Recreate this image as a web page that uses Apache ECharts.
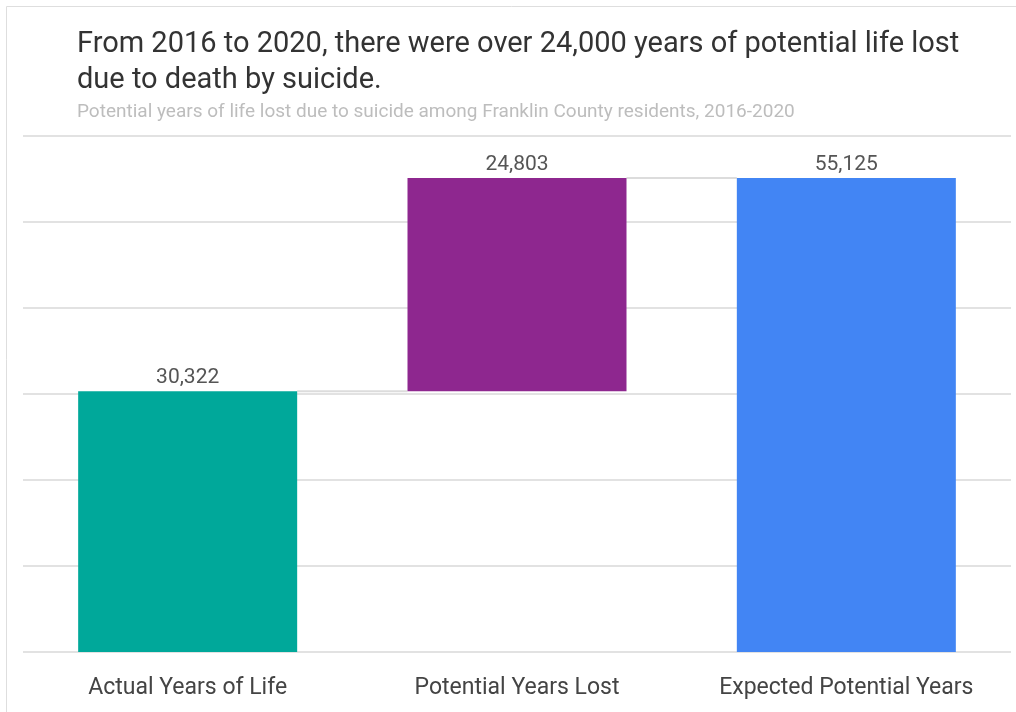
<!DOCTYPE html>
<html>
<head>
<meta charset="utf-8">
<script src="https://cdn.jsdelivr.net/npm/echarts@6/dist/echarts.min.js"></script>
<style>
  html, body { margin: 0; padding: 0; background: #ffffff; }
  #chart { width: 1016px; height: 712px; }
</style>
</head>
<body>
<div id="chart"></div>
<script>
// Waterfall: actual years + years lost = expected potential years
const categories = ['Actual Years of Life', 'Potential Years Lost', 'Expected Potential Years'];
const values = [30322, 24803, 55125];
const barColors = ['#00A89A', '#8E278F', '#4285F4'];
const yTicks = [0, 10000, 20000, 30000, 40000, 50000, 60000];

// invisible base under each bar (the lost years float on top of the actual years)
const bases = [0, values[0], 0];
// level each connector sits at: top of the bar it leaves
const connectorLevels = [values[0], values[0] + values[1]];

const chart = echarts.init(document.getElementById('chart'));
const BAR_FRAC = 0.665;

chart.setOption({
  animation: false,
  textStyle: { fontFamily: 'Roboto, "Liberation Sans", sans-serif' },
  graphic: [{
    type: 'rect',
    shape: { x: 6.5, y: 6.5, width: 1040, height: 760 },
    style: { fill: 'none', stroke: '#dedede', lineWidth: 1 },
    silent: true
  }],
  title: {
    text: 'From 2016 to 2020, there were over 24,000 years of potential life lost\ndue to death by suicide.',
    subtext: 'Potential years of life lost due to suicide among Franklin County residents, 2016-2020',
    left: 72,
    top: 22,
    itemGap: 4,
    textStyle: { fontSize: 29, fontWeight: 'normal', color: '#333333', lineHeight: 36, fontFamily: 'Roboto, sans-serif' },
    subtextStyle: { fontSize: 19, color: '#bdbdbd', fontFamily: 'Roboto, sans-serif' }
  },
  grid: { left: 23, right: 5, top: 136, bottom: 60, containLabel: false },
  xAxis: {
    type: 'category',
    data: categories,
    axisLine: { show: false },
    axisTick: { show: false },
    axisLabel: { interval: 0, hideOverlap: false, color: '#444444', fontSize: 23, margin: 25, fontFamily: 'Roboto, sans-serif' }
  },
  yAxis: {
    type: 'value',
    min: yTicks[0],
    max: yTicks[yTicks.length - 1],
    interval: yTicks[1] - yTicks[0],
    axisLabel: { show: false },
    axisLine: { show: false },
    axisTick: { show: false },
    splitLine: { lineStyle: { color: '#e2e2e2', width: 2 } }
  },
  series: [
    {
      type: 'bar',
      stack: 'wf',
      barWidth: (BAR_FRAC * 100) + '%',
      data: bases,
      itemStyle: { color: 'transparent' },
      silent: true
    },
    {
      type: 'bar',
      stack: 'wf',
      barWidth: (BAR_FRAC * 100) + '%',
      data: values.map((v, i) => ({ value: v, itemStyle: { color: barColors[i] } })),
      label: {
        show: true,
        position: 'top',
        distance: 3,
        color: '#555555',
        fontSize: 21,
        formatter: p => p.value.toLocaleString('en-US')
      }
    },
    {
      type: 'custom',
      data: connectorLevels.map((lv, i) => [i, lv]),
      z: 1,
      renderItem: function (params, api) {
        const i = api.value(0);
        const lv = api.value(1);
        const band = api.size([1, 0])[0];
        const half = band * BAR_FRAC / 2;
        const p0 = api.coord([i, lv]);
        const p1 = api.coord([i + 1, lv]);
        return {
          type: 'line',
          shape: { x1: p0[0] + half, y1: p0[1], x2: p1[0] - half, y2: p1[1] },
          style: { stroke: '#dcdcdc', lineWidth: 2 }
        };
      }
    }
  ]
});
</script>
</body>
</html>
